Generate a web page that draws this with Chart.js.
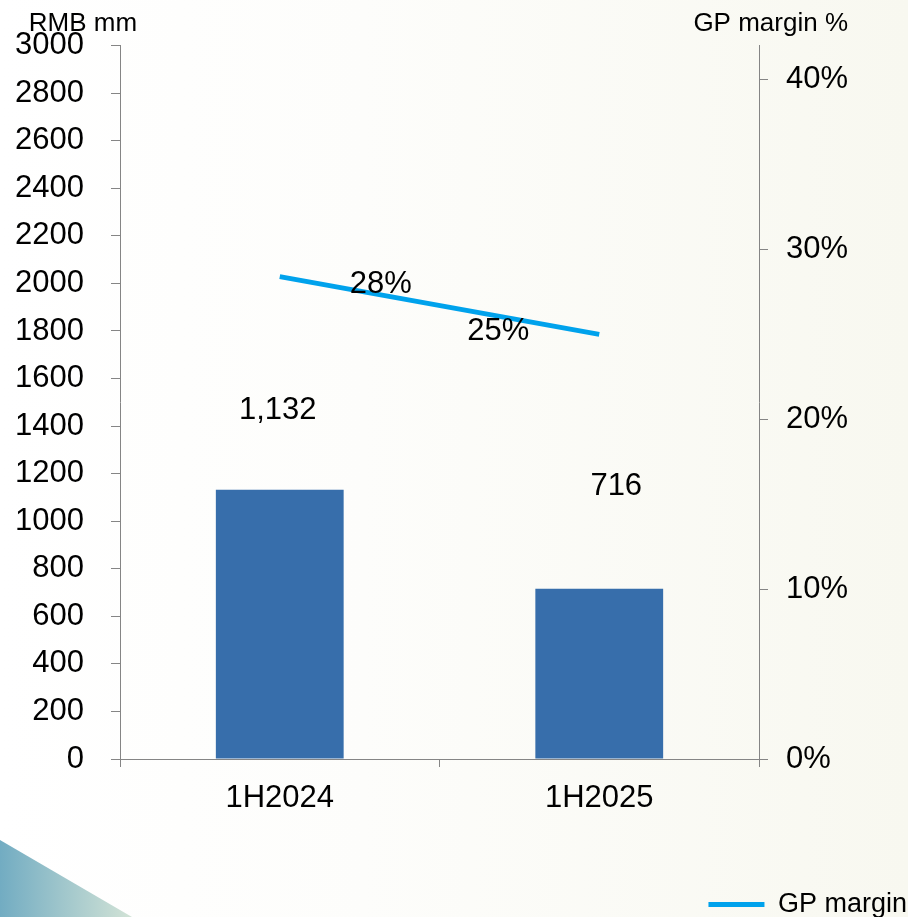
<!DOCTYPE html>
<html><head><meta charset="utf-8">
<script src="https://cdn.jsdelivr.net/npm/chart.js@4"></script>
<style>html,body{margin:0;padding:0;background:#fff;overflow:hidden;}</style>
</head><body>
<canvas id="c" width="908" height="917"></canvas>
<script>
// ---- data ----
const categories = ['1H2024', '1H2025'];
const revenue = [1132, 716];
const revenueLabels = ['1,132', '716'];
const gpMargin = [28.4, 25.0];
const gpMarginLabels = ['28%', '25%'];
const rightTickValues = [0, 10, 20, 30, 40];
const leftAxisTitle = 'RMB mm';
const rightAxisTitle = 'GP margin %';
const seriesNames = ['Revenue', 'GP margin'];

// ---- style ----
const FONT = '"Liberation Sans", Arial, sans-serif';
const AXIS_COLOR = '#858585';
const BAR_COLOR = '#376eab';
const LINE_COLOR = '#00a2ec';
const TICK_SIZE = 31;
const barLabelOffsets = [[-2, -79], [17, -102]];
const lineLabelOffsets = [[101, 8], [-101, -3]];

const decorPlugin = {
  id: 'decor',
  beforeDraw(chart) {
    const ctx = chart.ctx, W = chart.width, H = chart.height;
    ctx.save();
    const g = ctx.createLinearGradient(0, 0, W, 0);
    g.addColorStop(0, '#ffffff');
    g.addColorStop(0.4, '#fdfdfb');
    g.addColorStop(1, '#f8f8f0');
    ctx.fillStyle = g;
    ctx.fillRect(0, 0, W, H);
    const tg = ctx.createLinearGradient(0, 0, 132, 0);
    tg.addColorStop(0, '#72acc2');
    tg.addColorStop(1, '#d2e3d6');
    ctx.fillStyle = tg;
    ctx.beginPath();
    ctx.moveTo(0, 840);
    ctx.lineTo(132, H);
    ctx.lineTo(0, H);
    ctx.closePath();
    ctx.fill();
    ctx.restore();
  },
  afterDatasetsDraw(chart) {
    const ctx = chart.ctx;
    ctx.save();
    ctx.fillStyle = '#000';
    ctx.textAlign = 'center';
    ctx.textBaseline = 'middle';
    ctx.font = TICK_SIZE + 'px ' + FONT;
    chart.getDatasetMeta(0).data.forEach((el, i) => {
      ctx.fillText(revenueLabels[i], el.x + barLabelOffsets[i][0], el.y + barLabelOffsets[i][1]);
    });
    chart.getDatasetMeta(1).data.forEach((el, i) => {
      ctx.fillText(gpMarginLabels[i], el.x + lineLabelOffsets[i][0], el.y + lineLabelOffsets[i][1]);
    });
    ctx.font = '26px ' + FONT;
    ctx.fillText(leftAxisTitle, 83, 24);
    ctx.textAlign = 'right';
    ctx.fillText(rightAxisTitle, 848, 24);
    ctx.restore();
  }
};

new Chart(document.getElementById('c'), {
  type: 'bar',
  data: {
    labels: categories,
    datasets: [
      {
        type: 'bar',
        label: seriesNames[0],
        data: revenue,
        backgroundColor: BAR_COLOR,
        borderWidth: 0,
        categoryPercentage: 1,
        barPercentage: 0.4,
        yAxisID: 'y',
        order: 2
      },
      {
        type: 'line',
        label: seriesNames[1],
        data: gpMargin,
        borderColor: LINE_COLOR,
        backgroundColor: LINE_COLOR,
        borderWidth: 5,
        borderCapStyle: 'butt',
        pointRadius: 0,
        tension: 0,
        yAxisID: 'y1',
        order: 1
      }
    ]
  },
  options: {
    responsive: false,
    animation: false,
    devicePixelRatio: 1,
    layout: { padding: { top: 44, bottom: -11, left: 0, right: -3 } },
    plugins: {
      tooltip: { enabled: false },
      legend: {
        position: 'bottom',
        align: 'end',
        labels: {
          filter: (item) => item.datasetIndex === 1,
          usePointStyle: true,
          pointStyle: 'line',
          pointStyleWidth: 56,
          padding: 4,
          color: '#000',
          font: { family: FONT, size: 27 }
        }
      }
    },
    scales: {
      x: {
        grid: { drawOnChartArea: false, offset: true, tickLength: 8, color: AXIS_COLOR },
        border: { color: AXIS_COLOR, width: 1 },
        ticks: { color: '#000', font: { family: FONT, size: TICK_SIZE }, padding: 13, maxRotation: 0 },
        afterFit(s) { s.height = 128; }
      },
      y: {
        position: 'left',
        min: 0, max: 3000,
        grid: { drawOnChartArea: false, tickLength: 9, color: AXIS_COLOR },
        border: { color: AXIS_COLOR, width: 1 },
        ticks: { stepSize: 200, color: '#000', font: { family: FONT, size: TICK_SIZE }, padding: 27,
                 callback: (v) => String(v) },
        afterFit(s) { s.width = 120; }
      },
      y1: {
        position: 'right',
        min: 0, max: 42,
        grid: { drawOnChartArea: false, tickLength: 9, color: AXIS_COLOR },
        border: { color: AXIS_COLOR, width: 1 },
        ticks: { color: '#000', font: { family: FONT, size: TICK_SIZE }, padding: 18,
                 callback: (v) => v + '%' },
        afterBuildTicks(s) { s.ticks = rightTickValues.map(v => ({ value: v })); },
        afterFit(s) { s.width = 152; }
      }
    }
  },
  plugins: [decorPlugin]
});
</script>
</body></html>
